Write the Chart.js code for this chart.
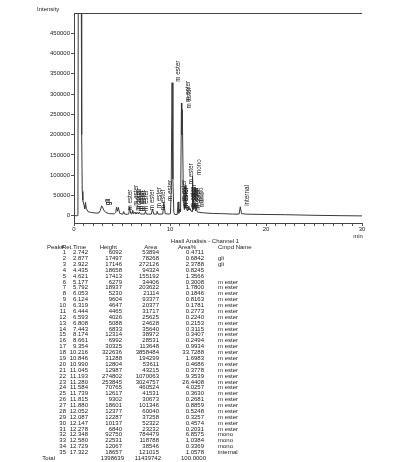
<!DOCTYPE html>
<html>
<head>
<meta charset="utf-8">
<title>Hasil Analisis - Channel 1</title>
<script src="https://cdn.jsdelivr.net/npm/chart.js@4.4.1/dist/chart.umd.min.js"></script>
<style>
  body { margin: 0; background: #fff; }
  canvas { display: block; }
</style>
</head>
<body>
<canvas id="chromatogram" width="394" height="462"></canvas>
<script>
// chromatogram trace (min, intensity)
const traceTime = [
  0.00, 0.38, 0.41, 0.45, 0.75, 0.80, 0.86, 0.92, 1.05, 1.12, 1.20, 1.28, 1.45, 1.80, 2.30,
  2.60, 2.742, 2.877, 2.922, 3.10, 3.30, 3.70, 4.20, 4.35, 4.435, 4.52, 4.621, 4.75, 5.00, 5.10,
  5.177, 5.26, 5.60, 5.72, 5.792, 5.90, 6.00, 6.053, 6.09, 6.124, 6.20, 6.319, 6.38, 6.444, 6.52,
  6.593, 6.70, 6.808, 6.90, 7.35, 7.443, 7.55, 8.05, 8.174, 8.30, 8.60, 8.661, 8.75, 9.25, 9.354,
  9.50, 9.90, 10.05, 10.12, 10.216, 10.30, 10.40, 10.50, 10.75, 10.846, 10.92, 10.99, 11.02, 11.045, 11.10,
  11.193, 11.23, 11.28, 11.40, 11.50, 11.584, 11.66, 11.739, 11.78, 11.815, 11.85, 11.88, 11.97, 12.052, 12.07,
  12.087, 12.12, 12.147, 12.20, 12.278, 12.31, 12.348, 12.45, 12.58, 12.65, 12.729, 12.85, 13.50, 14.50, 15.50,
  16.50, 17.20, 17.322, 17.45, 18.00, 20.00, 22.00, 25.00, 28.00, 30.00
];
const traceSignal = [
  0, 0, 20000, 620000, 620000, 200000, 60000, 38000, 25000, 17000, 33000, 18000, 10000, 8000, 6500,
  7000, 13000, 24000, 23500, 14000, 8000, 5000, 4500, 8000, 21500, 11000, 20500, 6000, 4000, 4200,
  10300, 4000, 3500, 5000, 22000, 6000, 4500, 9500, 6000, 13500, 5000, 8800, 4800, 8600, 4600,
  8200, 4500, 9300, 4300, 4000, 10800, 4000, 3800, 16000, 4000, 3800, 10700, 3800, 4000, 34000,
  5000, 4000, 5000, 60000, 328000, 90000, 8000, 3000, 3000, 34000, 6000, 16000, 12000, 16000, 10000,
  278000, 200000, 262000, 30000, 15000, 75000, 18000, 17000, 13000, 14000, 12000, 23000, 14000, 17000, 15000,
  17000, 14000, 15000, 11000, 12000, 10000, 98000, 15000, 28000, 12000, 18000, 9000, 7000, 5500, 5000,
  4000, 4000, 22000, 5000, 3800, 3000, 2500, 1000, 0, -500
];

// peak table
const retTimes = [2.742, 2.877, 2.922, 4.435, 4.621, 5.177, 5.792, 6.053, 6.124, 6.319, 6.444, 6.593,
  6.808, 7.443, 8.174, 8.661, 9.354, 10.216, 10.846, 10.990, 11.045, 11.193, 11.280, 11.584, 11.739,
  11.815, 11.880, 12.052, 12.087, 12.147, 12.278, 12.348, 12.580, 12.729, 17.322];
const heights = [6092, 17497, 17146, 18658, 17413, 6279, 18937, 5230, 9604, 4647, 4465, 4026,
  5088, 6833, 12314, 6992, 30325, 322636, 31288, 12804, 12987, 274802, 253845, 70765, 12617,
  9302, 18601, 12377, 12287, 10137, 6840, 92750, 22531, 12067, 18657];
const areas = [53894, 78268, 272126, 94324, 155192, 34406, 203622, 21114, 93377, 20377, 31717, 25625,
  24628, 35640, 38972, 28531, 113648, 3858484, 194299, 53611, 43215, 1070063, 3024757, 460524, 41531,
  30673, 101346, 60040, 37258, 52322, 23232, 784479, 118788, 38546, 121015];
const areaPct = ['0.4711', '0.6842', '2.3788', '0.8245', '1.3566', '0.3008', '1.7800', '0.1846', '0.8163',
  '0.1781', '0.2773', '0.2240', '0.2153', '0.3115', '0.3407', '0.2494', '0.9934', '33.7288', '1.6983',
  '0.4686', '0.3778', '9.3539', '26.4408', '4.0257', '0.3630', '0.2681', '0.8859', '0.5248', '0.3257',
  '0.4574', '0.2031', '6.8575', '1.0384', '0.3369', '1.0578'];
const cmpdNames = ['', 'gli', 'gli', '', '',
  'm ester', 'm ester', 'm ester', 'm ester', 'm ester', 'm ester', 'm ester', 'm ester', 'm ester',
  'm ester', 'm ester', 'm ester', 'm ester', 'm ester', 'm ester', 'm ester', 'm ester', 'm ester',
  'm ester', 'm ester', 'm ester', 'm ester', 'm ester', 'm ester', 'm ester', 'm ester',
  'mono', 'mono', 'mono', 'internal'];
const totalHeight = 1398639;
const totalArea = 11439742;
const totalPct = '100.0000';

const xTickValues = Array.from({ length: 31 }, (_, i) => i);   // a mark every minute
const xTickLabels = [0, 10, 20, 30];
const yTickValues = [0, 50000, 100000, 150000, 200000, 250000, 300000, 350000, 400000, 450000];

const FONT = '"Liberation Sans", Arial, sans-serif';
const INK = '#222';

Chart.defaults.font.family = FONT;
Chart.defaults.color = INK;

// vertical compound names above each named peak
const peakLabels = {
  id: 'peakLabels',
  afterDatasetsDraw(chart) {
    const { ctx, scales: { x, y } } = chart;
    ctx.save();
    ctx.font = '6.3px ' + FONT;
    ctx.fillStyle = INK;
    ctx.textAlign = 'left';
    ctx.textBaseline = 'middle';
    retTimes.forEach((rt, i) => {
      if (!cmpdNames[i]) return;
      const k = traceTime.indexOf(rt);
      const apex = k >= 0 ? traceSignal[k] : heights[i];
      const px = x.getPixelForValue(rt) + 6.5;
      const py = y.getPixelForValue(apex) - 1;
      ctx.save();
      ctx.translate(px, py);
      ctx.rotate(-Math.PI / 2);
      ctx.fillText(cmpdNames[i], 0, 0);
      ctx.restore();
    });
    ctx.restore();
  }
};

// frame top, axis captions and the result table
const report = {
  id: 'report',
  afterDraw(chart) {
    const { ctx, chartArea } = chart;
    ctx.save();
    ctx.strokeStyle = '#444';
    ctx.lineWidth = 1;
    ctx.beginPath();
    ctx.moveTo(chartArea.left, chartArea.top + 0.5);
    ctx.lineTo(chartArea.right, chartArea.top + 0.5);
    ctx.stroke();

    ctx.fillStyle = INK;
    ctx.font = '6px ' + FONT;
    ctx.textBaseline = 'middle';
    ctx.textAlign = 'left';
    ctx.fillText('Intensity', 37, 9);
    ctx.textAlign = 'center';
    ctx.fillText('min', chartArea.right - 4, 236);

    // table
    ctx.fillText('Hasil Analisis - Channel 1', 205, 241);
    ctx.textAlign = 'right';
    ctx.fillText('Peak#', 64, 247);
    ctx.fillText('Ret.Time', 86, 247);
    ctx.fillText('Height', 117, 247);
    ctx.fillText('Area', 157, 247);
    ctx.fillText('Area%', 196, 247);
    ctx.textAlign = 'left';
    ctx.fillText('Cmpd Name', 218, 247);

    const rowY = i => 252.5 + i * 5.88;
    retTimes.forEach((rt, i) => {
      const yy = rowY(i);
      ctx.textAlign = 'right';
      ctx.fillText(String(i + 1), 66, yy);
      ctx.fillText(rt.toFixed(3), 88, yy);
      ctx.fillText(String(heights[i]), 122, yy);
      ctx.fillText(String(areas[i]), 159, yy);
      ctx.fillText(areaPct[i], 204, yy);
      ctx.textAlign = 'left';
      ctx.fillText(cmpdNames[i], 218, yy);
    });
    const yt = rowY(retTimes.length);
    ctx.textAlign = 'right';
    ctx.fillText('Total', 55, yt);
    ctx.fillText(String(totalHeight), 124, yt);
    ctx.fillText(String(totalArea), 161, yt);
    ctx.fillText(totalPct, 206, yt);
    ctx.restore();
  }
};

new Chart(document.getElementById('chromatogram'), {
  type: 'line',
  data: {
    datasets: [{
      data: traceTime.map((t, i) => ({ x: t, y: traceSignal[i] })),
      borderColor: '#3a3a3a',
      borderWidth: 1,
      pointRadius: 0,
      tension: 0,
      fill: false
    }]
  },
  options: {
    responsive: false,
    animation: false,
    events: [],
    layout: { padding: { left: 0, right: 32, top: 13, bottom: 0 } },
    plugins: { legend: { display: false }, tooltip: { enabled: false } },
    scales: {
      x: {
        type: 'linear',
        min: 0,
        max: 30,
        afterFit: s => { s.height = 239; },
        afterBuildTicks: s => { s.ticks = xTickValues.map(v => ({ value: v })); },
        grid: { drawOnChartArea: false, tickLength: 3, color: '#555' },
        border: { display: true, color: '#444' },
        ticks: {
          autoSkip: false,
          maxRotation: 0,
          padding: 0,
          font: { size: 6 },
          callback: v => xTickLabels.includes(v) ? String(v) : ''
        }
      },
      y: {
        min: -18000,
        max: 500000,
        afterFit: s => { s.width = 74; },
        afterBuildTicks: s => { s.ticks = yTickValues.map(v => ({ value: v })); },
        grid: { drawOnChartArea: false, tickLength: 3, color: '#555' },
        border: { display: true, color: '#444' },
        ticks: {
          autoSkip: false,
          padding: 1,
          font: { size: 6 },
          callback: v => String(v)
        }
      }
    }
  },
  plugins: [peakLabels, report]
});
</script>
</body>
</html>
